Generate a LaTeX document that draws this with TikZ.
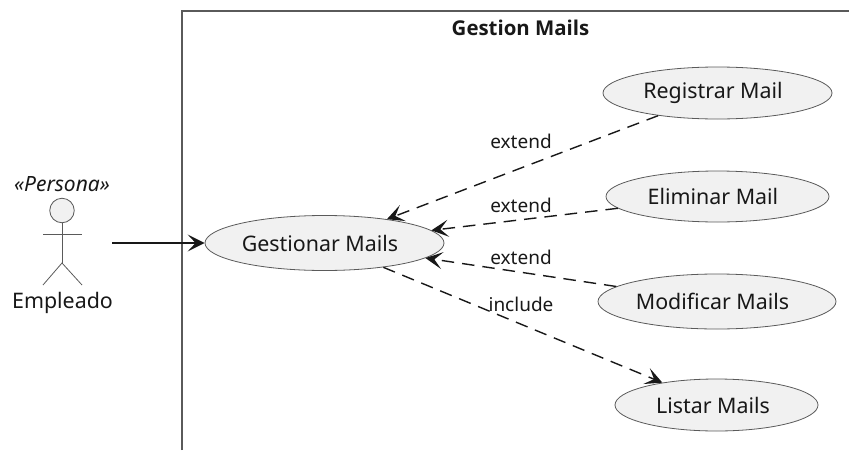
\documentclass[tikz,border=0pt]{standalone}
\usepackage{fontspec}
\setmainfont{Noto Sans}
\newfontfamily\titlefont{Open Sans}
\usetikzlibrary{shapes.geometric,arrows.meta}
\definecolor{ink}{HTML}{181818}
\definecolor{soft}{HTML}{5A5A5A}
\definecolor{usefill}{HTML}{F1F1F1}
\tikzset{
  usecase/.style={ellipse,draw=soft,line width=0.8pt,fill=usefill,inner sep=0pt,text=ink,font=\fontsize{21.4}{25}\selectfont},
  lbl/.style={text=ink,inner sep=0pt,font=\fontsize{19}{23}\selectfont},
  limb/.style={draw=soft,line width=0.8pt},
  conn/.style={draw=ink,line width=1.4pt,-{Stealth[length=17pt,width=17pt,inset=8pt]}},
  dep/.style={conn,dash pattern=on 12.5pt off 8pt},
  frameline/.style={draw=soft,line width=1.4pt}
}
\begin{document}
\begin{tikzpicture}[x=1pt,y=-1pt]
\useasboundingbox (0,0) rectangle (849,450);
\coordinate (ftl) at (182,11);
\coordinate (ftr) at (849,11);
\coordinate (fbl) at (182,450);
\draw[frameline] (fbl) -- (ftl) -- (ftr);
\node[text=ink,inner sep=0pt,font=\titlefont\fontsize{20.4}{24}\selectfont\bfseries] (title) at (520.5,28) {Gestion Mails};
\node[usecase,minimum width=239pt,minimum height=55pt] (gest) at (324.5,243) {\hspace*{-9pt}Gestionar Mails};
\node[usecase,minimum width=229pt,minimum height=52pt] (reg) at (717.5,93) {\hspace*{-9pt}Registrar Mail};
\node[usecase,minimum width=223pt,minimum height=51pt] (eli) at (717.5,196.5) {\hspace*{-9pt}Eliminar Mail};
\node[usecase,minimum width=238pt,minimum height=55pt] (mod) at (717,301.5) {\hspace*{-9pt}Modificar Mails};
\node[usecase,minimum width=203pt,minimum height=52pt] (lis) at (716.5,405) {\hspace*{-7pt}Listar Mails};
\node[lbl,font=\fontsize{21}{25}\selectfont\itshape] (stereo) at (62,184.5) {«Persona»};
\node[circle,draw=soft,line width=0.8pt,fill=usefill,minimum size=24.5pt,inner sep=0pt] (head) at (62,210.5) {};
\coordinate (hip) at (62,263);
\coordinate (larm) at (43,234.5);
\coordinate (rarm) at (82,234.5);
\coordinate (lleg) at (43,285);
\coordinate (rleg) at (82,285);
\draw[limb] (head.south) -- (hip);
\draw[limb] (larm) -- (rarm);
\draw[limb] (lleg) -- (hip) -- (rleg);
\node[usecase,draw=none,fill=none] (emp) at (62.5,302.5) {Empleado};
\coordinate (start) at (112,243);
\draw[conn] (start) -- (gest.west);
\draw[dep] (reg) -- (gest);
\draw[dep] (eli) -- (gest);
\draw[dep] (mod) -- (gest);
\draw[dep] (gest) -- (lis);
\node[lbl] (l1) at (521,141) {extend};
\node[lbl] (l2) at (521,205) {extend};
\node[lbl] (l3) at (521,257) {extend};
\node[lbl] (l4) at (521,304) {include};
\end{tikzpicture}
\end{document}
